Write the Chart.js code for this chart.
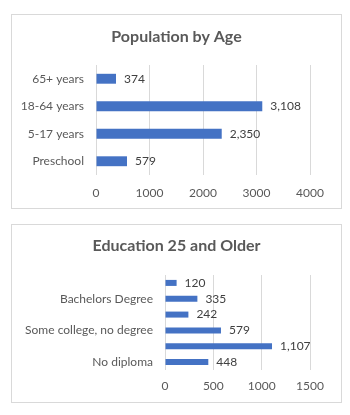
<!DOCTYPE html>
<html>
<head>
<meta charset="utf-8">
<script src="https://cdn.jsdelivr.net/npm/chart.js@4.4.1/dist/chart.umd.min.js"></script>
<style>
  body { margin: 0; background: #ffffff; }
  .box { position: absolute; left: 11px; width: 329px; border: 1px solid #d9d9d9; background: #ffffff; }
  #box1 { top: 14px; height: 193px; }
  #box2 { top: 224px; height: 177px; }
  canvas { display: block; }
</style>
</head>
<body>
<div class="box" id="box1"><canvas id="ageChart" width="329" height="193"></canvas></div>
<div class="box" id="box2"><canvas id="eduChart" width="329" height="177"></canvas></div>
<script>
// Poblacion por edad
const ageLabels = ["65+ years", "18-64 years", "5-17 years", "Preschool"];
const ageValues = [374, 3108, 2350, 579];
const ageTicks = [0, 1000, 2000, 3000, 4000];

// Educacion 25 y mas
const eduLabels = ["Graduate Degree", "Bachelors Degree", "Associates Degree", "Some college, no degree", "High school graduate", "No diploma"];
const eduValues = [120, 335, 242, 579, 1107, 448];
const eduTicks = [0, 500, 1000, 1500];

const FONT = "Lato, 'Open Sans', sans-serif";
const barColor = "#4472c4";
const gridColor = "#d9d9d9";
const textColor = "#595959";

// Valores al final de cada barra
const valueLabels = {
    id: "valueLabels",
    afterDatasetsDraw(chart) {
        const ctx = chart.ctx;
        ctx.save();
        ctx.font = "12px " + FONT;
        ctx.fillStyle = "#404040";
        ctx.textBaseline = "middle";
        ctx.textAlign = "left";
        chart.getDatasetMeta(0).data.forEach((bar, i) => {
            const v = chart.data.datasets[0].data[i];
            ctx.fillText(v.toLocaleString("en-US"), bar.x + 8, bar.y);
        });
        ctx.restore();
    }
};

// El titulo se centra sobre todo el canvas, no solo sobre el area con padding
const tituloCentrado = {
    id: "tituloCentrado",
    afterLayout(chart) {
        const t = chart.titleBlock;
        if (!t) return;
        t.left = 0;
        t.right = chart.width;
        t.width = chart.width;
    }
};

function crearGrafico(id, title, labels, values, ticks, box) {
    const ctx = document.getElementById(id).getContext("2d");
    return new Chart(ctx, {
        type: "bar",
        data: {
            labels: labels,
            datasets: [{
                data: values,
                backgroundColor: barColor,
                barPercentage: box.bar,
                categoryPercentage: 1
            }]
        },
        options: {
            indexAxis: "y",
            responsive: false,
            animation: false,
            layout: { padding: { left: 0, right: 31, top: 0, bottom: 0 } },
            plugins: {
                legend: { display: false },
                tooltip: { enabled: false },
                title: {
                    display: true,
                    text: title,
                    color: textColor,
                    font: { family: FONT, size: 16, weight: "bold", lineHeight: 1.2 },
                    padding: { top: box.titleTop, bottom: box.titleBottom }
                }
            },
            scales: {
                x: {
                    min: ticks[0],
                    max: ticks[ticks.length - 1],
                    afterBuildTicks: (scale) => { scale.ticks = ticks.map(v => ({ value: v })); },
                    afterFit: (scale) => { scale.height = box.xHeight; },
                    grid: { color: gridColor, drawTicks: false },
                    border: { display: false },
                    ticks: {
                        color: textColor,
                        padding: box.xPad,
                        font: { family: FONT, size: 12 },
                        callback: (v) => String(v)
                    }
                },
                y: {
                    afterFit: (scale) => { scale.width = box.yWidth; },
                    grid: { display: false, drawTicks: false },
                    border: { display: false },
                    ticks: {
                        color: textColor,
                        padding: 12,
                        autoSkip: false,
                        font: { family: FONT, size: 12 },
                        callback: function (value, index) {
                            if (box.skip && index % 2 === 0) return "";
                            return this.getLabelForValue(value);
                        }
                    }
                }
            }
        },
        plugins: [valueLabels, tituloCentrado]
    });
}

crearGrafico("ageChart", "Population by Age", ageLabels, ageValues, ageTicks,
    { bar: 0.36, titleTop: 12.4, titleBottom: 18.4, xHeight: 33, xPad: 11, yWidth: 84, skip: false });

crearGrafico("eduChart", "Education 25 and Older", eduLabels, eduValues, eduTicks,
    { bar: 0.38, titleTop: 11.4, titleBottom: 19.4, xHeight: 32, xPad: 9, yWidth: 153, skip: true });
</script>
</body>
</html>
